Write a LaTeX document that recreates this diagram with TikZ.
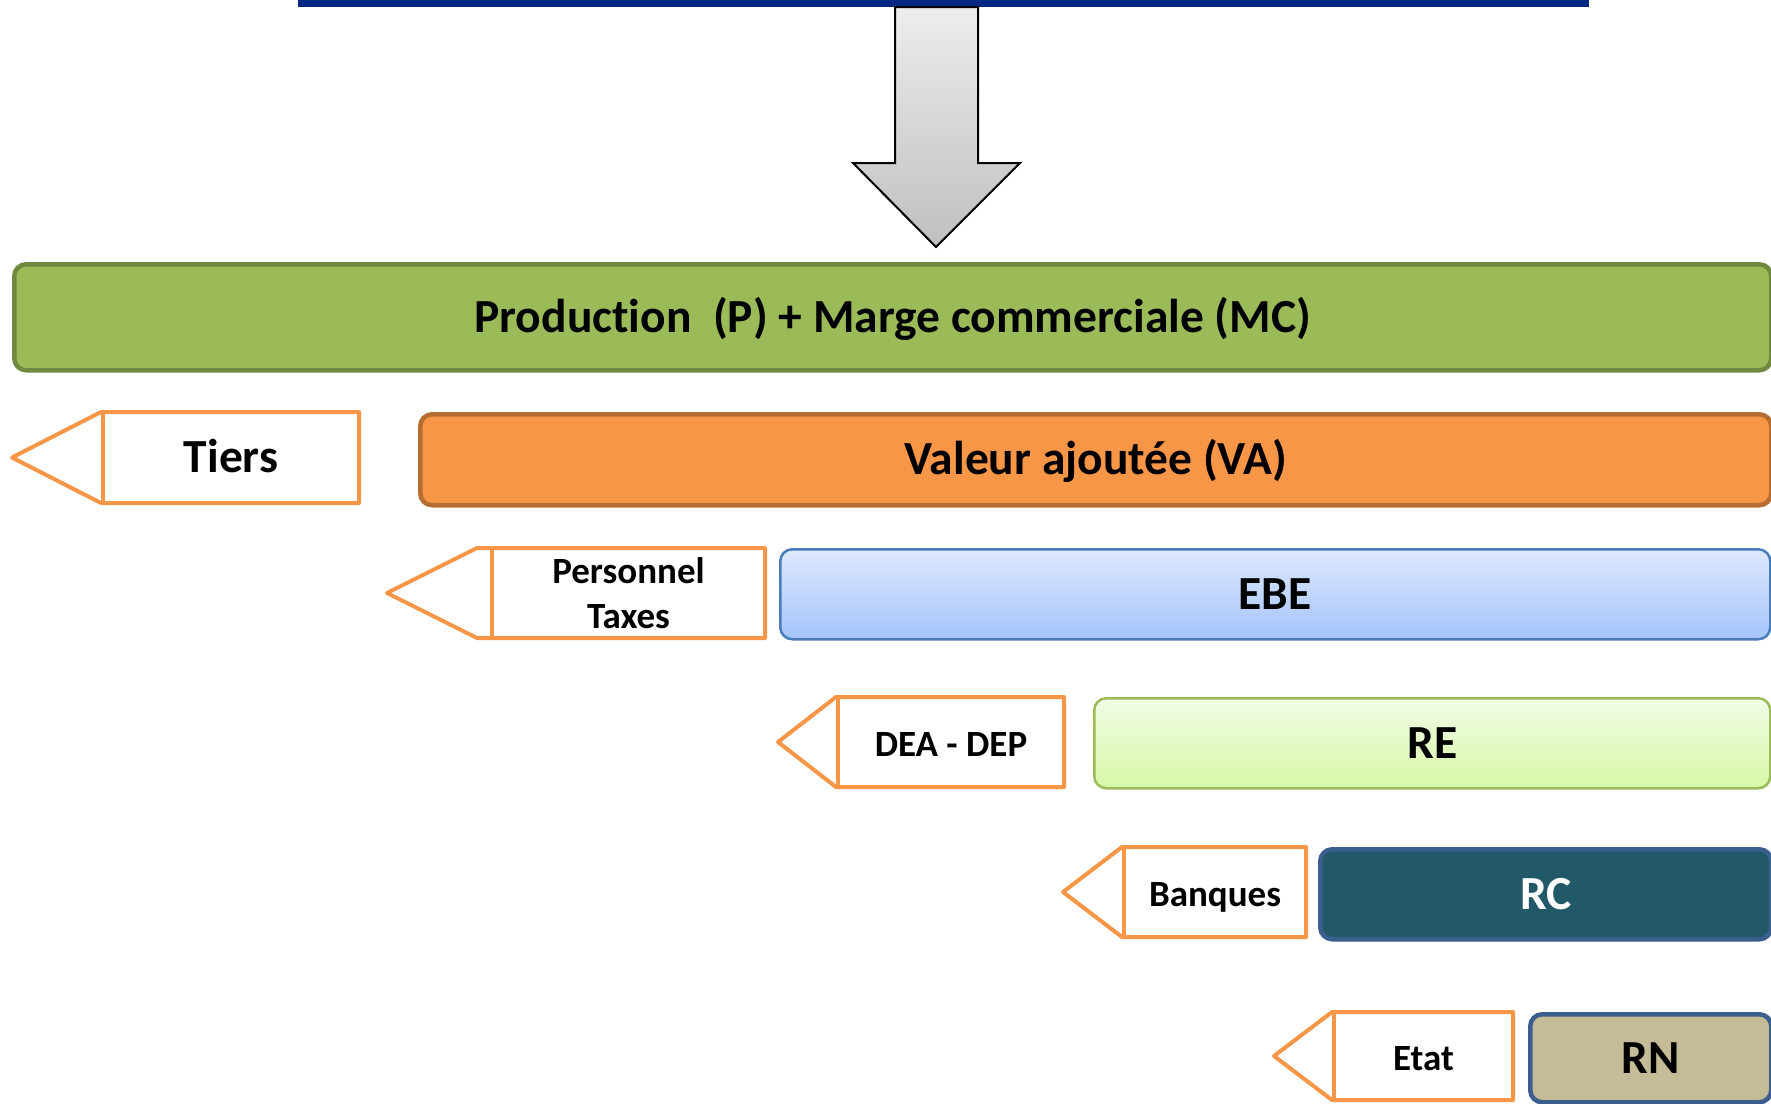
\documentclass[tikz,border=0pt]{standalone}
\usepackage{fontspec}
\setmainfont[Ligatures=NoCommon]{Carlito}
\definecolor{navy}{HTML}{002882}
\definecolor{greenfill}{HTML}{9BBB59}
\definecolor{greenborder}{HTML}{71893F}
\definecolor{orangefill}{HTML}{F79646}
\definecolor{orangeborder}{HTML}{B66D31}
\definecolor{tagorange}{HTML}{F79646}
\definecolor{ebetop}{HTML}{DDE8FD}
\definecolor{ebebot}{HTML}{A4C4FB}
\definecolor{ebeborder}{HTML}{4A7EBB}
\definecolor{retop}{HTML}{F2FCE6}
\definecolor{rebot}{HTML}{D6F8A6}
\definecolor{reborder}{HTML}{9BBB59}
\definecolor{rcfill}{HTML}{215968}
\definecolor{darkborder}{HTML}{3A5F8E}
\definecolor{rnfill}{HTML}{C4BC96}
\definecolor{arrowtop}{HTML}{EDEDED}
\definecolor{arrowbot}{HTML}{BFBFBF}
\tikzset{
  bigbox/.style={rounded corners=12pt, line width=4.5pt, inner sep=0pt, anchor=north west},
  tagline/.style={draw=tagorange, line width=4pt, line join=round},
  biglabel/.style={font=\bfseries\fontsize{47.5}{52}\selectfont, align=center, inner sep=0pt,
    text height=36pt, text depth=6pt},
  smallfont/.style={font=\bfseries\fontsize{37}{45}\selectfont, align=center, inner sep=0pt},
  smalllabel/.style={smallfont, text height=32pt, text depth=4pt},
}
% #1 name, #2 tip x, #3 head x, #4 bar x, #5 right x, #6 top y, #7 bottom y, #8 label style, #9 text
\newcommand\tagarrow[9]{%
  \draw[tagline, fill=white] (#2,{(#6+#7)/2}) -- (#3,#6) -- (#5,#6) -- (#5,#7) -- (#3,#7) -- cycle;
  \draw[tagline] (#4,#6) -- (#4,#7);
  \node[#8] (#1) at ({(#4+#5)/2},{(#6+#7)/2}) {#9};
}
\begin{document}
\begin{tikzpicture}[x=1pt,y=-1pt]
\useasboundingbox (0,0) rectangle (1771,1103);
\fill[white] (0,0) rectangle (1771,1103);
% top bar
\node[fill=navy, minimum width=1291pt, minimum height=7pt, inner sep=0pt, anchor=north west] (bar) at (298,0) {};
% gray down arrow
\coordinate (a1) at (895,7);
\coordinate (a2) at (978,7);
\draw[line width=2pt, line join=miter, top color=arrowtop, bottom color=arrowbot]
  (a1) -- (a2) -- (978,163) -- (1020,163) -- (936,247) -- (853,163) -- (895,163) -- cycle;
% main boxes
\node[bigbox, draw=greenborder, fill=greenfill, minimum width=1757pt, minimum height=106pt] (prod) at (12,262) {};
\node[biglabel] (prodlabel) at (prod.center) {Production\ \ (P) + Marge commerciale (MC)};
\node[bigbox, draw=orangeborder, fill=orangefill, minimum width=1351pt, minimum height=91pt] (va) at (418,412) {};
\node[biglabel] (valabel) at (va.center) {Valeur ajoutée (VA)};
\node[bigbox, line width=2.5pt, draw=ebeborder, top color=ebetop, bottom color=ebebot, minimum width=990pt, minimum height=90pt] (ebe) at (779,548) {};
\node[biglabel] (ebelabel) at (ebe.center) {EBE};
\node[bigbox, line width=2.5pt, draw=reborder, top color=retop, bottom color=rebot, minimum width=676pt, minimum height=90pt] (re) at (1093,697) {};
\node[biglabel] (relabel) at (re.center) {RE};
\node[bigbox, draw=darkborder, fill=rcfill, minimum width=451pt, minimum height=90pt] (rc) at (1318,847) {};
\node[biglabel, text=white] (rclabel) at (rc.center) {RC};
\node[bigbox, draw=darkborder, fill=rnfill, minimum width=241pt, minimum height=88pt] (rn) at (1528,1012) {};
\node[biglabel] (rnlabel) at (rn.center) {RN};
% tags
\tagarrow{tiers}{12}{101}{103}{359}{412}{503}{biglabel}{Tiers}
\tagarrow{pers}{387}{477}{492}{765}{548}{638}{smallfont}{Personnel\\Taxes}
\tagarrow{dea}{778}{836}{838}{1064}{697}{787}{smalllabel}{DEA - DEP}
\tagarrow{banques}{1063}{1122}{1124}{1306}{847}{937}{smalllabel}{Banques}
\tagarrow{etat}{1274}{1332}{1334}{1513}{1012}{1100}{smalllabel}{Etat}
\end{tikzpicture}
\end{document}
